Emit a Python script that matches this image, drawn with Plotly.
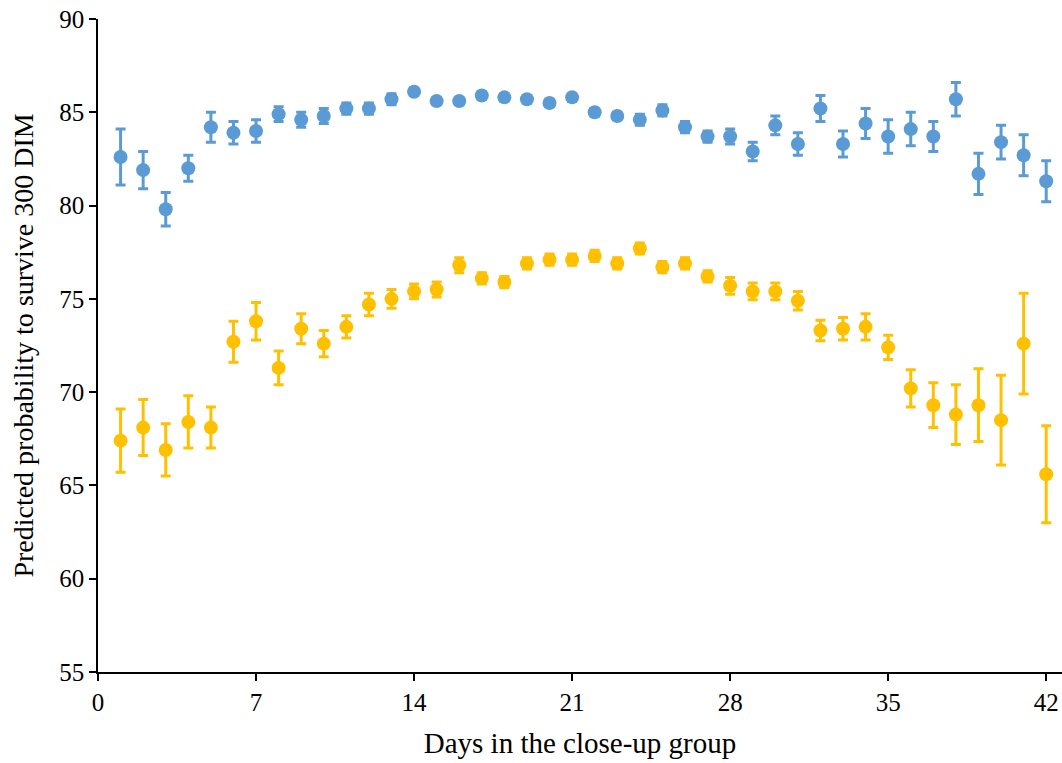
import plotly.graph_objects as go

days = list(range(1, 43))

blue_vals = [82.6, 81.9, 79.8, 82.0, 84.2, 83.9, 84.0, 84.9, 84.6, 84.8,
             85.2, 85.2, 85.7, 86.1, 85.6, 85.6, 85.9, 85.8, 85.7, 85.5,
             85.8, 85.0, 84.8, 84.6, 85.1, 84.2, 83.7, 83.7, 82.9, 84.3,
             83.3, 85.2, 83.3, 84.4, 83.7, 84.1, 83.7, 85.7, 81.7, 83.4,
             82.7, 81.3]
blue_err = [1.5, 1.0, 0.9, 0.7, 0.8, 0.6, 0.6, 0.4, 0.4, 0.4,
            0.3, 0.3, 0.3, 0.2, 0.2, 0.2, 0.2, 0.2, 0.2, 0.2,
            0.2, 0.2, 0.2, 0.3, 0.3, 0.3, 0.3, 0.4, 0.5, 0.5,
            0.6, 0.7, 0.7, 0.8, 0.9, 0.9, 0.8, 0.9, 1.1, 0.9,
            1.1, 1.1]

orange_vals = [67.4, 68.1, 66.9, 68.4, 68.1, 72.7, 73.8, 71.3, 73.4, 72.6,
               73.5, 74.7, 75.0, 75.4, 75.5, 76.8, 76.1, 75.9, 76.9, 77.1,
               77.1, 77.3, 76.9, 77.7, 76.7, 76.9, 76.2, 75.7, 75.4, 75.4,
               74.9, 73.3, 73.4, 73.5, 72.4, 70.2, 69.3, 68.8, 69.3, 68.5,
               72.6, 65.6]
orange_err = [1.7, 1.5, 1.4, 1.4, 1.1, 1.1, 1.0, 0.9, 0.8, 0.7,
              0.6, 0.6, 0.5, 0.4, 0.4, 0.4, 0.3, 0.3, 0.3, 0.3,
              0.3, 0.3, 0.3, 0.3, 0.3, 0.3, 0.3, 0.45, 0.45, 0.45,
              0.5, 0.55, 0.6, 0.7, 0.65, 1.0, 1.2, 1.6, 1.95, 2.4,
              2.7, 2.6]

x_ticks = [0, 7, 14, 21, 28, 35, 42]
y_ticks = [55, 60, 65, 70, 75, 80, 85, 90]

BLUE = "#5B9BD5"
ORANGE = "#FFC000"
FONT = "Liberation Serif, Times New Roman, serif"

fig = go.Figure()
for vals, errs, col in [(blue_vals, blue_err, BLUE), (orange_vals, orange_err, ORANGE)]:
    fig.add_trace(go.Scatter(
        x=days, y=vals, mode="markers",
        marker=dict(color=col, size=14, line=dict(width=0)),
        error_y=dict(type="data", array=errs, visible=True, color=col,
                     thickness=3, width=5),
        showlegend=False, cliponaxis=False,
    ))

fig.update_layout(
    width=1062, height=763,
    margin=dict(l=98, r=0, t=19, b=91),
    plot_bgcolor="white", paper_bgcolor="white",
    font=dict(family=FONT, size=25, color="black"),
    xaxis=dict(
        range=[0, 42.7], tickvals=x_ticks, ticktext=[str(v) for v in x_ticks],
        showgrid=False, zeroline=False, showline=True, linecolor="black",
        linewidth=1.5, ticks="outside", ticklen=7, tickwidth=1.5, tickcolor="black",
        tickfont=dict(family=FONT, size=25),
        title=dict(text="Days in the close-up group", font=dict(family=FONT, size=29), standoff=18),
    ),
    yaxis=dict(
        range=[55, 90], tickvals=y_ticks,
        showgrid=False, zeroline=False, showline=True, linecolor="black",
        linewidth=1.5, ticks="outside", ticklen=7, tickwidth=1.5, tickcolor="black",
        tickfont=dict(family=FONT, size=25),
        title=dict(text="Predicted probability to survive 300 DIM", font=dict(family=FONT, size=28), standoff=17),
    ),
)

fig.write_html("out.html")
